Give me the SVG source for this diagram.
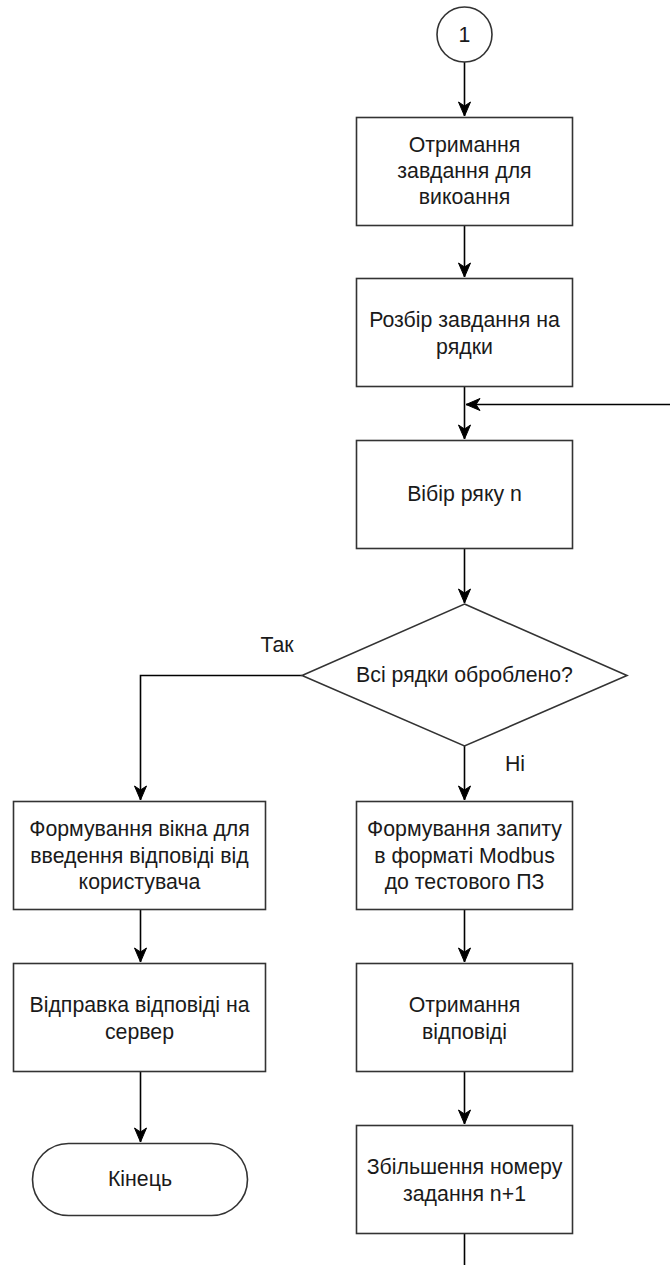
<svg xmlns="http://www.w3.org/2000/svg" width="670" height="1265" viewBox="0 0 670 1265">
  <defs>
    <marker id="arrow" markerUnits="userSpaceOnUse" markerWidth="16" markerHeight="14" viewBox="0 0 16 14" refX="15" refY="7" orient="auto">
      <path d="M1,1 L15,7 L1,13 L5,7 Z" fill="#000" stroke="#000" stroke-width="1" stroke-linejoin="miter"/>
    </marker>
    <style>
      .shape { fill: #fff; stroke: #333; stroke-width: 1.6; }
      .label { font-family: "Liberation Sans", Arial, sans-serif; font-size: 21.3px; fill: #1a1a1a; text-anchor: middle; dominant-baseline: central; }
      .edge { fill: none; stroke: #000; stroke-width: 1.6; }
      .edge-label { font-family: "Liberation Sans", Arial, sans-serif; font-size: 21.3px; fill: #1a1a1a; text-anchor: middle; dominant-baseline: central; }
    </style>
  </defs>
  <rect width="670" height="1265" fill="#fff"/>

  <!-- connectors -->
  <g id="connectors">
    <path class="edge" d="M464.5,62 L464.5,116" marker-end="url(#arrow)"/>
    <path class="edge" d="M464.5,225 L464.5,277" marker-end="url(#arrow)"/>
    <path class="edge" d="M464.5,386 L464.5,439" marker-end="url(#arrow)"/>
    <path class="edge" d="M670,404.5 L466,404.5" marker-end="url(#arrow)"/>
    <path class="edge" d="M464.5,548 L464.5,603" marker-end="url(#arrow)"/>
    <path class="edge" d="M302,675.5 L140.5,675.5 L140.5,800" marker-end="url(#arrow)"/>
    <path class="edge" d="M464.5,746 L464.5,800" marker-end="url(#arrow)"/>
    <path class="edge" d="M140.5,909 L140.5,962" marker-end="url(#arrow)"/>
    <path class="edge" d="M464.5,909 L464.5,962" marker-end="url(#arrow)"/>
    <path class="edge" d="M140.5,1071 L140.5,1142" marker-end="url(#arrow)"/>
    <path class="edge" d="M464.5,1071 L464.5,1124" marker-end="url(#arrow)"/>
    <path class="edge" d="M464.5,1233 L464.5,1265"/>
    <text class="edge-label" x="277" y="645">Так</text>
    <text class="edge-label" x="515" y="764">Ні</text>
  </g>

  <!-- nodes -->
  <g id="connector-1">
    <circle class="shape" cx="464.5" cy="34.5" r="27.5"/>
    <text class="label" x="464.5" y="35">1</text>
  </g>

  <g id="receive-task">
    <rect class="shape" x="356.5" y="117.5" width="216" height="108"/>
    <text class="label" x="464.5" y="145">Отримання</text>
    <text class="label" x="464.5" y="171">завдання для</text>
    <text class="label" x="464.5" y="197">викоання</text>
  </g>

  <g id="parse-task">
    <rect class="shape" x="356.5" y="278.5" width="216" height="108"/>
    <text class="label" x="464.5" y="320">Розбір завдання на</text>
    <text class="label" x="464.5" y="347">рядки</text>
  </g>

  <g id="select-row">
    <rect class="shape" x="356.5" y="440.5" width="216" height="108"/>
    <text class="label" x="464.5" y="494">Вібір ряку n</text>
  </g>

  <g id="all-rows-done">
    <polygon class="shape" points="464.5,604 627,675.5 464.5,746 302,675.5"/>
    <text class="label" x="464.5" y="675">Всі рядки оброблено?</text>
  </g>

  <g id="build-answer-window">
    <rect class="shape" x="13.5" y="801.5" width="252" height="108"/>
    <text class="label" x="139.5" y="829">Формування вікна для</text>
    <text class="label" x="139.5" y="856">введення відповіді від</text>
    <text class="label" x="139.5" y="882">користувача</text>
  </g>

  <g id="build-modbus-request">
    <rect class="shape" x="356.5" y="801.5" width="216" height="108"/>
    <text class="label" x="464.5" y="829">Формування запиту</text>
    <text class="label" x="464.5" y="856">в форматі Modbus</text>
    <text class="label" x="464.5" y="882">до тестового ПЗ</text>
  </g>

  <g id="send-answer">
    <rect class="shape" x="13.5" y="963.5" width="252" height="108"/>
    <text class="label" x="139.5" y="1005">Відправка відповіді на</text>
    <text class="label" x="139.5" y="1032">сервер</text>
  </g>

  <g id="receive-response">
    <rect class="shape" x="356.5" y="963.5" width="216" height="108"/>
    <text class="label" x="464.5" y="1005">Отримання</text>
    <text class="label" x="464.5" y="1032">відповіді</text>
  </g>

  <g id="end">
    <rect class="shape" x="32.5" y="1143.5" width="215" height="72" rx="36" ry="36"/>
    <text class="label" x="140" y="1179">Кінець</text>
  </g>

  <g id="increment-row">
    <rect class="shape" x="356.5" y="1125.5" width="216" height="108"/>
    <text class="label" x="464.5" y="1167">Збільшення номеру</text>
    <text class="label" x="464.5" y="1194">задання n+1</text>
  </g>
</svg>
